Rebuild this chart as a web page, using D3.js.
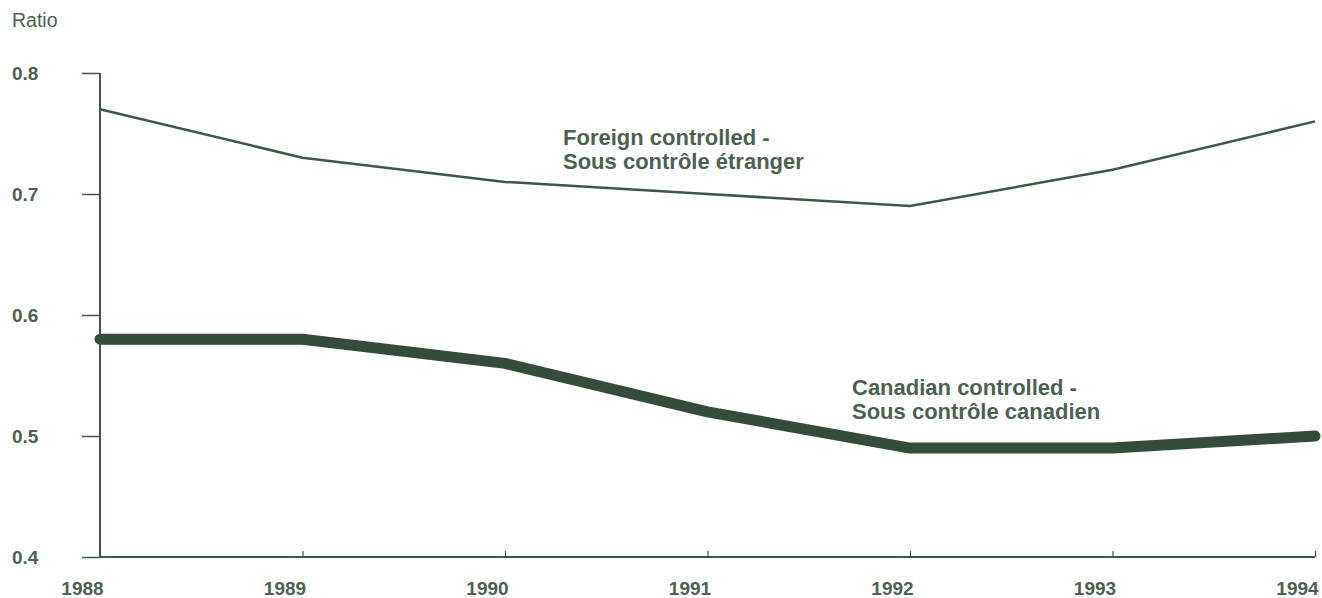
<!DOCTYPE html>
<html><head><meta charset="utf-8">
<script src="https://cdn.jsdelivr.net/npm/d3@7"></script>
<style>body{margin:0;background:#fff}svg{display:block}</style>
</head><body>
<script>
const years = [1988, 1989, 1990, 1991, 1992, 1993, 1994];
const foreignControlled = [0.77, 0.73, 0.71, 0.70, 0.69, 0.72, 0.76];
const canadianControlled = [0.58, 0.58, 0.56, 0.52, 0.49, 0.49, 0.50];
const yTicks = [0.4, 0.5, 0.6, 0.7, 0.8];
const foreignLabel = ["Foreign controlled -", "Sous contrôle étranger"];
const canadianLabel = ["Canadian controlled -", "Sous contrôle canadien"];

const W = 1322, H = 598;
const ink = "#3f5846", txt = "#4d6152";
const svg = d3.select("body").append("svg").attr("width", W).attr("height", H);
const x = d3.scaleLinear().domain([1988, 1994]).range([100, 1315]);
const y = d3.scaleLinear().domain([0.4, 0.8]).range([557, 73]);
const font = "Liberation Sans, Arial, sans-serif";

// y axis
const ya = svg.append("g").attr("transform", "translate(100,0)")
  .call(d3.axisLeft(y).tickValues(yTicks).tickSize(18).tickFormat(d3.format(".1f")));
ya.select(".domain").attr("stroke", ink).attr("stroke-width", 2).attr("d", "M0,73V557");
ya.selectAll(".tick line").attr("stroke", ink).attr("stroke-width", 1.5);
ya.selectAll(".tick text").attr("x", -88).attr("text-anchor", "start")
  .attr("fill", txt).style("font", "bold 19px " + font);

// x axis
const xa = svg.append("g").attr("transform", "translate(0,557)")
  .call(d3.axisBottom(x).tickValues(years).tickSize(-6).tickFormat(d3.format("d")));
xa.select(".domain").attr("stroke", ink).attr("stroke-width", 2).attr("d", "M100,0H1315");
xa.selectAll(".tick line").attr("stroke", ink).attr("stroke-width", 1.2);
xa.selectAll(".tick text").attr("y", 38).attr("dy", 0).attr("dx", -18)
  .attr("fill", txt).style("font", "bold 19px " + font);

svg.append("text").attr("x", 12).attr("y", 27).text("Ratio")
  .attr("fill", txt).style("font", "19.5px " + font);

const line = d3.line().x((d, i) => x(years[i])).y(d => y(d));
svg.append("path").datum(foreignControlled).attr("d", line)
  .attr("fill", "none").attr("stroke", ink).attr("stroke-width", 2.5);
svg.append("path").datum(canadianControlled).attr("d", line)
  .attr("fill", "none").attr("stroke", "#354c3c").attr("stroke-width", 11)
  .attr("stroke-linecap", "round").attr("stroke-linejoin", "round");

function label(lines, px, py) {
  const t = svg.append("text").attr("x", px).attr("y", py)
    .attr("fill", txt).style("font", "bold 22px " + font);
  lines.forEach((s, i) => t.append("tspan").attr("x", px).attr("dy", i ? 24 : 0).text(s));
}
label(foreignLabel, 563, 145);
label(canadianLabel, 852, 395);
</script>
</body></html>
